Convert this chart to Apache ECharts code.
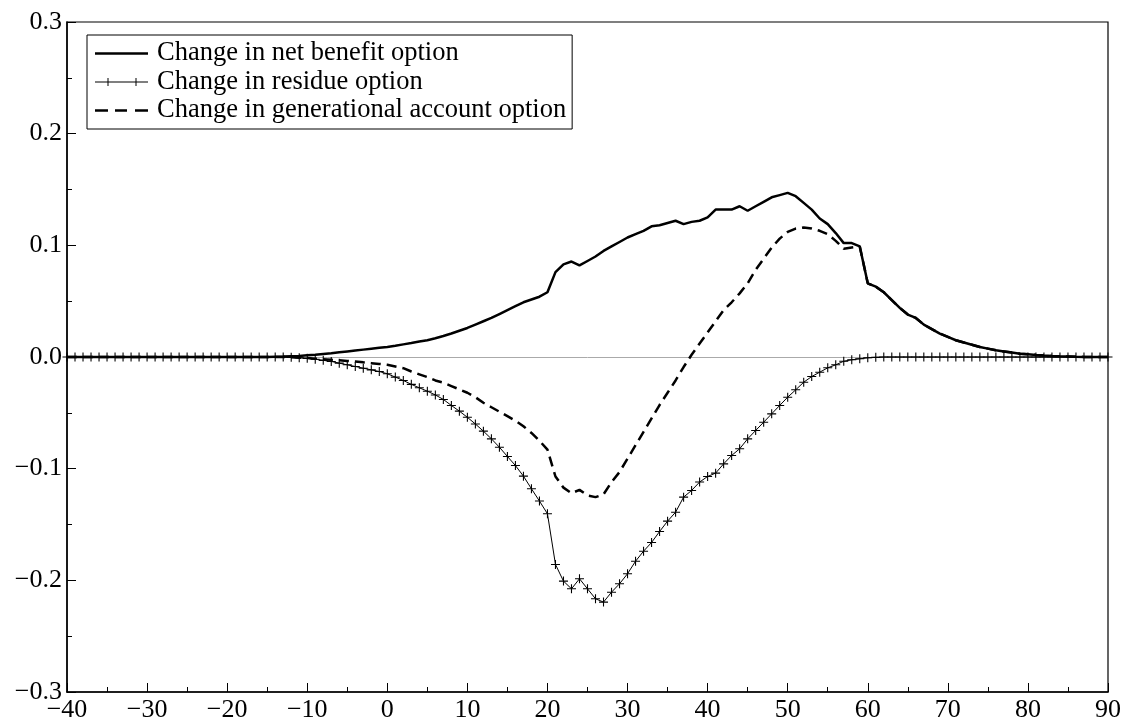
<!DOCTYPE html>
<html>
<head>
<meta charset="utf-8">
<title>Change in options by age</title>
<script src="https://cdn.jsdelivr.net/npm/echarts@6/dist/echarts.min.js"></script>
<style>
  html, body { margin: 0; padding: 0; background: #fff; }
  #chart { width: 1130px; height: 727px; }
</style>
</head>
<body>
<div id="chart"></div>
<script>
// Age (x axis)
const ages = [
  -40,-39,-38,-37,-36,-35,-34,-33,-32,-31,-30,-29,-28,-27,-26,-25,-24,-23,-22,-21,
  -20,-19,-18,-17,-16,-15,-14,-13,-12,-11,-10,-9,-8,-7,-6,-5,-4,-3,-2,-1,
  0,1,2,3,4,5,6,7,8,9,10,11,12,13,14,15,16,17,18,19,
  20,21,22,23,24,25,26,27,28,29,30,31,32,33,34,35,36,37,38,39,
  40,41,42,43,44,45,46,47,48,49,50,51,52,53,54,55,56,57,58,59,
  60,61,62,63,64,65,66,67,68,69,70,71,72,73,74,75,76,77,78,79,
  80,81,82,83,84,85,86,87,88,89,90
];

// Change in net benefit option
const netBenefit = [
  0,0,0,0,0,0,0,0,0,0,0,0,0,0,0,0,0,0,0,0,0,0,0,0,0,0,
  0.0002,0.0004,0.0007,0.001,0.0015,0.002,0.0027,0.0034,0.0042,0.005,0.0058,0.0066,0.0074,0.0082,
  0.009,0.010,0.0113,0.0125,0.0138,0.015,0.0168,0.0188,0.021,0.0235,
  0.026,0.029,0.032,0.035,0.0385,0.042,0.0455,0.049,0.0515,0.054,
  0.058,0.076,0.083,0.0855,0.082,0.086,0.090,0.095,0.099,0.103,
  0.107,0.110,0.113,0.117,0.118,0.120,0.122,0.119,0.121,0.122,
  0.125,0.132,0.132,0.132,0.135,0.131,0.135,0.139,0.143,0.145,
  0.147,0.144,0.138,0.132,0.124,0.119,0.111,0.102,0.102,0.099,
  0.066,0.063,0.058,0.051,0.044,0.038,0.035,0.029,0.025,0.021,
  0.018,0.015,0.013,0.011,0.009,0.0075,0.006,0.005,0.004,0.003,
  0.0025,0.0018,0.0013,0.0009,0.0006,0.0004,0.0002,0.0001,0,0,0
];

// Change in residue option
const residue = [
  0,0,0,0,0,0,0,0,0,0,0,0,0,0,0,0,0,0,0,0,0,0,0,0,0,0,0,0,
  -0.0003,-0.0007,-0.0012,-0.002,-0.003,-0.004,-0.0055,-0.007,-0.0085,-0.010,-0.0115,-0.013,
  -0.015,-0.018,-0.021,-0.0245,-0.0276,-0.0306,-0.034,-0.038,-0.0434,-0.0485,
  -0.054,-0.060,-0.0664,-0.0733,-0.0808,-0.0891,-0.0972,-0.1067,-0.118,-0.129,
  -0.1404,-0.1858,-0.2007,-0.2076,-0.1986,-0.2076,-0.2165,-0.2195,-0.2106,-0.2031,
  -0.1941,-0.1829,-0.1739,-0.1661,-0.1563,-0.147,-0.139,-0.1255,-0.1195,-0.112,
  -0.107,-0.104,-0.0957,-0.0882,-0.0822,-0.0733,-0.0658,-0.0584,-0.0509,-0.0434,
  -0.036,-0.0294,-0.0226,-0.0175,-0.0136,-0.0097,-0.007,-0.0038,-0.0025,-0.0016,
  -0.0007,-0.0003,
  0,0,0,0,0,0,0,0,0,0,0,0,0,0,0,0,0,0,0,0,0,0,0,0,0,0,0,0,0
];

// Change in generational account option
const generational = [
  0,0,0,0,0,0,0,0,0,0,0,0,0,0,0,0,0,0,0,0,0,0,0,0,0,0,0,0,
  -0.0003,-0.0006,-0.001,-0.0015,-0.002,-0.0025,-0.003,-0.0035,-0.004,-0.0048,-0.0055,-0.0062,
  -0.007,-0.0085,-0.010,-0.013,-0.0155,-0.018,-0.021,-0.023,-0.026,-0.029,
  -0.032,-0.036,-0.041,-0.045,-0.049,-0.053,-0.057,-0.062,-0.068,-0.075,
  -0.083,-0.107,-0.117,-0.122,-0.119,-0.124,-0.1255,-0.123,-0.112,-0.103,
  -0.091,-0.079,-0.067,-0.055,-0.043,-0.032,-0.021,-0.009,0.002,0.012,
  0.022,0.032,0.042,0.049,0.057,0.066,0.078,0.088,0.098,0.106,
  0.112,0.115,0.116,0.115,0.113,0.110,0.104,0.097,0.098,0.099,
  0.066,0.063,0.058,0.051,0.044,0.038,0.035,0.029,0.025,0.021,
  0.018,0.015,0.013,0.011,0.009,0.0075,0.006,0.005,0.004,0.003,
  0.0025,0.0018,0.0013,0.0009,0.0006,0.0004,0.0002,0.0001,0,0,0
];

const seriesNames = [
  'Change in net benefit option',
  'Change in residue option',
  'Change in generational account option'
];

const SERIF = '"Liberation Serif", "Times New Roman", serif';
const pair = (vals) => ages.map((a, i) => [a, vals[i]]);
const signed = (v, digits) => {
  const s = digits == null ? String(Math.abs(v)) : Math.abs(v).toFixed(digits);
  return v < 0 ? '\u2212' + s : s;
};

// thin "+" marker for the residue series
const PLUS = 'path://M4.4,0H5.6V4.4H10V5.6H5.6V10H4.4V5.6H0V4.4H4.4Z';

// legend keys: solid line, line with two plus marks, dashed line
const KEY_SOLID = 'path://M0,0H53V2.5H0Z';
const KEY_PLUS = 'path://M0,3.5H53V4.5H0Z' +
  'M12.5,0H13.5V8H12.5Z M9,3.5H17V4.5H9Z' +
  'M40.5,0H41.5V8H40.5Z M37,3.5H45V4.5H37Z';
const KEY_DASH = 'path://M0,0H13V2.5H0Z M20,0H32V2.5H20Z M40,0H53V2.5H40Z';

const chart = echarts.init(document.getElementById('chart'), null, { renderer: 'canvas' });

const axisCommon = {
  axisLine: { show: true, onZero: false, lineStyle: { color: '#000', width: 1.5 } },
  axisTick: { show: true, inside: true, length: 9, lineStyle: { color: '#000', width: 1 } },
  minorTick: { show: true, splitNumber: 2, length: 5, lineStyle: { color: '#000', width: 1 } },
  splitLine: { show: false }
};

chart.setOption({
  animation: false,
  backgroundColor: '#fff',
  grid: {
    left: 67, right: 22, top: 22, bottom: 35,
    containLabel: false,
    outerBoundsMode: 'none',
    show: true,
    borderColor: '#000',
    borderWidth: 1.2,
    backgroundColor: 'transparent'
  },
  legend: {
    orient: 'vertical',
    left: 87,
    top: 35,
    padding: [5, 6, 5, 8],
    itemGap: 1.5,
    itemWidth: 53,
    itemHeight: 14,
    backgroundColor: '#fff',
    borderColor: '#000',
    borderWidth: 1,
    borderRadius: 0,
    textStyle: { fontFamily: SERIF, fontSize: 26.5, color: '#000', padding: [0, 0, 0, 4] },
    data: [
      { name: seriesNames[0], icon: KEY_SOLID },
      { name: seriesNames[1], icon: KEY_PLUS },
      { name: seriesNames[2], icon: KEY_DASH }
    ]
  },
  xAxis: Object.assign({
    type: 'value',
    min: -40, max: 90, interval: 10,
    axisLabel: {
      color: '#000', fontFamily: SERIF, fontSize: 26, margin: 5,
      formatter: (v) => signed(v)
    }
  }, axisCommon),
  yAxis: Object.assign({
    type: 'value',
    min: -0.3, max: 0.3, interval: 0.1,
    axisLabel: {
      color: '#000', fontFamily: SERIF, fontSize: 26, margin: 5,
      formatter: (v) => signed(v, 1)
    }
  }, axisCommon),
  series: [
    {
      name: seriesNames[0],
      type: 'line',
      data: pair(netBenefit),
      symbol: 'none',
      lineStyle: { color: '#000', width: 2.5 },
      itemStyle: { color: '#000' },
      z: 3,
      markLine: {
        silent: true,
        symbol: 'none',
        z: 1,
        label: { show: false },
        lineStyle: { color: '#aaa', width: 1, type: 'solid' },
        data: [{ yAxis: 0 }]
      }
    },
    {
      name: seriesNames[1],
      type: 'line',
      data: pair(residue),
      symbol: PLUS,
      symbolSize: 9,
      showAllSymbol: true,
      lineStyle: { color: '#000', width: 1 },
      itemStyle: { color: '#000', borderWidth: 0 },
      z: 4
    },
    {
      name: seriesNames[2],
      type: 'line',
      data: pair(generational),
      symbol: 'none',
      lineStyle: { color: '#000', width: 2.5, type: [10, 6] },
      itemStyle: { color: '#000' },
      z: 3
    }
  ]
});
</script>
</body>
</html>
